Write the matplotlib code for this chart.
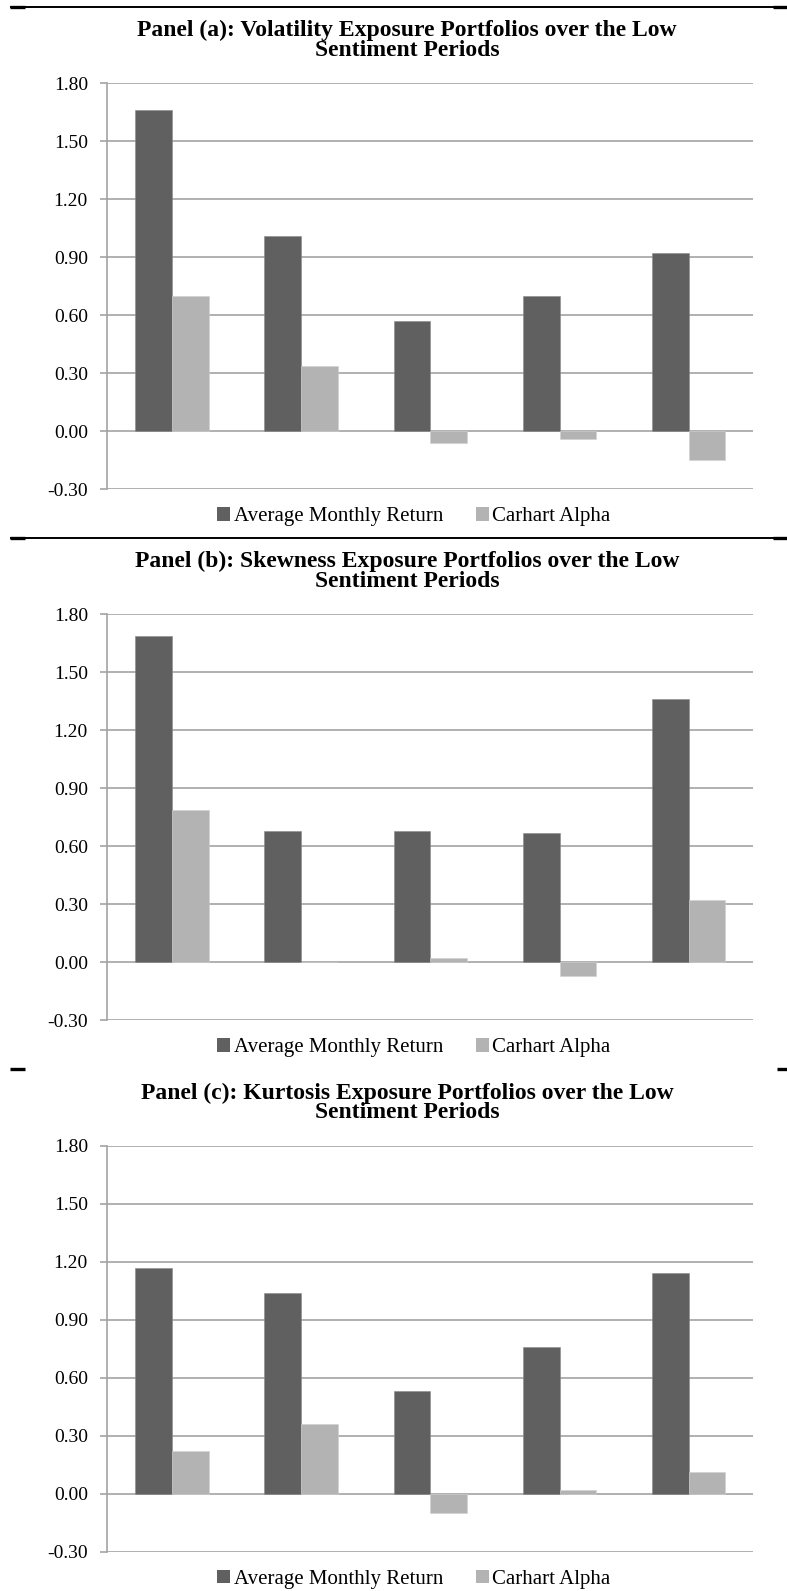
import matplotlib
matplotlib.use("Agg")
import matplotlib.pyplot as plt
from matplotlib.lines import Line2D
from matplotlib.patches import Patch
import numpy as np

# ---------------- data ----------------
categories = ["P1", "P2", "P3", "P4", "P5"]
series_names = ["Average Monthly Return", "Carhart Alpha"]

panel_titles = [
    ("Panel (a): Volatility Exposure Portfolios over the Low", "Sentiment Periods"),
    ("Panel (b): Skewness Exposure Portfolios over the Low", "Sentiment Periods"),
    ("Panel (c): Kurtosis Exposure Portfolios over the Low", "Sentiment Periods"),
]

vol_return = [1.66, 1.01, 0.57, 0.70, 0.92]
vol_alpha = [0.70, 0.34, -0.06, -0.04, -0.15]

skew_return = [1.69, 0.68, 0.68, 0.67, 1.36]
skew_alpha = [0.79, 0.00, 0.02, -0.07, 0.32]

kurt_return = [1.17, 1.04, 0.53, 0.76, 1.14]
kurt_alpha = [0.22, 0.36, -0.10, 0.02, 0.11]

yticks = [-0.30, 0.00, 0.30, 0.60, 0.90, 1.20, 1.50, 1.80]
ytick_labels = ["-0.30", "0.00", "0.30", "0.60", "0.90", "1.20", "1.50", "1.80"]

# ---------------- style ----------------
W, H = 787, 1591
DPI = 100
plt.rcParams['font.family'] = ['Liberation Serif', 'DejaVu Serif']
DARK = "#606060"
LIGHT = "#b3b3b3"
GRID = "#a3a3a3"

fig = plt.figure(figsize=(W / DPI, H / DPI), dpi=DPI)

def fx(px):
    return px / W

def fy(py):
    return 1 - py / H

panels = [
    (vol_return, vol_alpha),
    (skew_return, skew_alpha),
    (kurt_return, kurt_alpha),
]

ax_left, ax_right = 107.3, 753.3
ax_h = 406.0
tops = [83.3, 614.3, 1145.7]
bar_w = 0.284

for k, ((ret, alp), top) in enumerate(zip(panels, tops)):
    ax = fig.add_axes([fx(ax_left), fy(top + ax_h), fx(ax_right - ax_left), ax_h / H])
    x = np.arange(len(categories))
    ax.bar(x - bar_w / 2, ret, width=bar_w, color=DARK, edgecolor="#8a8a8a",
           linewidth=0.4, zorder=3, label=series_names[0])
    ax.bar(x + bar_w / 2, alp, width=bar_w, color=LIGHT, edgecolor="#d0d0d0",
           linewidth=0.4, zorder=3, label=series_names[1])
    ax.set_xlim(-0.5, len(categories) - 0.5)
    ax.set_ylim(-0.30, 1.80)
    ax.set_yticks(yticks)
    ax.set_yticklabels(ytick_labels, fontsize=14)
    ax.set_xticks([])
    for yv in yticks:
        ax.axhline(yv, color=GRID, linewidth=1.2, zorder=1)
    for s in ["top", "right", "bottom"]:
        ax.spines[s].set_visible(False)
    ax.spines["left"].set_color(GRID)
    ax.spines["left"].set_linewidth(1.2)
    ax.tick_params(axis="y", length=5, width=1.2, color=GRID, pad=9, labelcolor="black")

    # titles
    t1, t2 = panel_titles[k]
    fig.text(fx(407), fy(top - 52.5), t1, ha="center", va="center",
             fontsize=17, fontweight="bold")
    fig.text(fx(407), fy(top - 33), t2, ha="center", va="center",
             fontsize=17, fontweight="bold")

    # legend
    handles = [Patch(facecolor=DARK, edgecolor="none"), Patch(facecolor=LIGHT, edgecolor="none")]
    fig.legend(handles, series_names, loc="center", ncol=2,
               bbox_to_anchor=(fx(414), fy(top + ax_h + 27.4)),
               frameon=False, fontsize=15, handlelength=0.62, handleheight=0.62,
               handletextpad=0.18, columnspacing=1.55, borderpad=0, borderaxespad=0)

# ---------------- separators ----------------
def hline(y, x0, x1, lw):
    fig.add_artist(Line2D([fx(x0), fx(x1)], [fy(y), fy(y)], color="black",
                          linewidth=lw, transform=fig.transFigure, solid_capstyle="butt"))

hline(6.7, 10, 787, 1.4)
hline(6.7, 10, 25, 2.4)
hline(6.7, 773, 787, 2.4)

hline(537.7, 10, 787, 1.4)
hline(537.7, 10, 25, 2.4)
hline(537.7, 773, 787, 2.4)

hline(1069, 10, 25, 2.4)
hline(1069, 777, 787, 2.4)

fig.savefig("out.png", dpi=DPI)
